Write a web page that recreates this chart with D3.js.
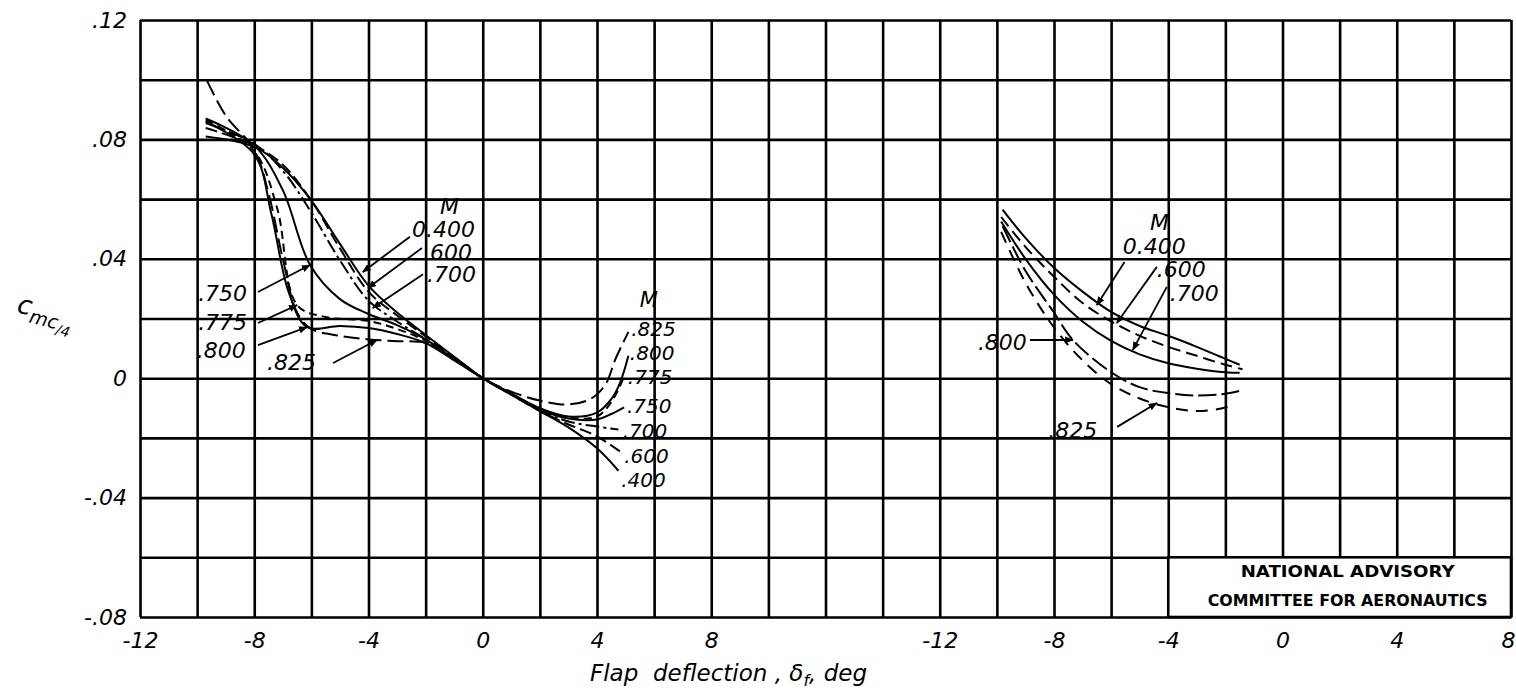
<!DOCTYPE html>
<html>
<head>
<meta charset="utf-8">
<script src="https://cdn.jsdelivr.net/npm/d3@7"></script>
<style>
  body { margin: 0; background: #fff; }
  text { font-family: "DejaVu Sans", sans-serif; font-style: italic; fill: #000; }
</style>
</head>
<body>
<div id="chart"></div>
<script>

// x tick labels and y tick labels
var xTicks = [-12, -8, -4, 0, 4, 8];
var yTicks = [-0.08, -0.04, 0, 0.04, 0.08, 0.12];
var yTickText = ["-.08", "-.04", "0", ".04", ".08", ".12"];

// left panel, Mach numbers and curves [flap deflection, cm c/4]
var leftMach = ["0.400", ".600", ".700", ".750", ".775", ".800", ".825"];
var left400 = [[-9.7, .081], [-8, .0775], [-7, .0705], [-6, .0595], [-5, .045], [-4, .031], [-3, .022], [-2, .0145], [-1, .0072], [0, 0],
  [1, -.0055], [2, -.011], [3, -.0165], [4, -.0235], [4.75, -.031]];
var left600 = [[-9.7, .0838], [-8, .078], [-7, .0715], [-6, .0595], [-5, .0435], [-4, .029], [-3, .021], [-2, .014], [-1, .007], [0, 0],
  [1, -.0055], [2, -.011], [3, -.0155], [4, -.0195], [4.8, -.0245]];
var left700 = [[-9.7, .0855], [-8, .0785], [-7, .0695], [-6, .0555], [-5, .0395], [-4, .026], [-3, .019], [-2, .013], [-1, .0065], [0, 0],
  [1, -.0055], [2, -.0108], [3, -.0145], [4, -.0162], [4.75, -.0172]];
var left750 = [[-9.7, .087], [-8, .078], [-7, .063], [-6.05, .038], [-5, .0265], [-4, .0215], [-3, .0178], [-2, .013], [-1, .0064], [0, 0],
  [1, -.0053], [2, -.0105], [3, -.0135], [4, -.0138], [4.5, -.012], [4.95, -.0098]];
var left775 = [[-9.7, .0865], [-8, .076], [-7.2, .057], [-6.5, .0245], [-5.5, .0205], [-4, .0192], [-3, .0165], [-2, .0125], [-1, .0063], [0, 0],
  [1, -.0052], [2, -.0103], [3, -.0132], [4, -.0128], [4.5, -.008], [4.95, .0005]];
var left800 = [[-9.7, .086], [-8, .075], [-7.4, .055], [-6.8, .029], [-6.15, .0171], [-5, .0175], [-4, .0168], [-3, .0148], [-2, .0118], [-1, .006], [0, 0],
  [1, -.0051], [2, -.01], [3, -.0128], [4, -.0115], [4.5, -.007], [4.8, -.0017], [5.1, .0075]];
var left825 = [[-9.65, .0996], [-9, .088], [-8, .0765], [-7.5, .062], [-7, .04], [-6.5, .022], [-6, .0165], [-5, .0142], [-4, .013], [-3, .0124], [-2, .0118], [-1, .0068], [0, 0],
  [1, -.0045], [2, -.0075], [3, -.0088], [3.8, -.0068], [4.3, -.002], [4.65, .0065], [5.1, .0155]];

// right panel, Mach numbers and curves
var rightMach = ["0.400", ".600", ".700", ".800", ".825"];
var right400 = [[-9.8, .0565], [-9, .047], [-8, .037], [-7, .029], [-6, .0222], [-5, .0175], [-4, .0142], [-3, .0105], [-2, .0065], [-1.5, .0045]];
var right600 = [[-9.85, .054], [-9, .044], [-8, .034], [-7, .0252], [-6, .019], [-5, .0142], [-4, .0105], [-3, .0075], [-2, .0045], [-1.4, .003]];
var right700 = [[-9.85, .0525], [-9, .040], [-8, .028], [-7, .019], [-6, .0125], [-5, .008], [-4, .005], [-3, .0032], [-2, .002], [-1.5, .0018]];
var right800 = [[-9.8, .051], [-9, .036], [-8, .022], [-7.34, .0128], [-6, .002], [-5, -.003], [-4, -.005], [-3, -.0058], [-2, -.0052], [-1.4, -.004]];
var right825 = [[-9.85, .049], [-9, .032], [-8, .017], [-7, .006], [-6, -.002], [-5, -.0068], [-4, -.0097], [-3, -.011], [-2, -.0098], [-1.7, -.0085]];

var width = 1516, height = 693;

var svg = d3.select("#chart")
  .append("svg")
  .attr("width", width)
  .attr("height", height);

// one scale across both panels (right panel shifted by 28 units), plus one per panel
var xAll = d3.scaleLinear().domain([-12, 36]).range([140, 1511]);
var xLeft = d3.scaleLinear().domain([-12, 8]).range([xAll(-12), xAll(8)]);
var xRight = d3.scaleLinear().domain([-12, 8]).range([xAll(16), xAll(36)]);
var y = d3.scaleLinear().domain([-0.08, 0.12]).range([617, 20]);

svg.append("defs").append("marker")
  .attr("id", "arrow")
  .attr("viewBox", "0 0 10 10")
  .attr("refX", 9).attr("refY", 5)
  .attr("markerWidth", 9).attr("markerHeight", 9)
  .attr("markerUnits", "userSpaceOnUse")
  .attr("orient", "auto")
  .append("path")
  .attr("d", "M0,1 L10,5 L0,9 Z")
  .style("fill", "#000");

// grid
var gridV = svg.append("g")
  .attr("transform", "translate(0," + y(-0.08) + ")")
  .call(d3.axisBottom(xAll).tickValues(d3.range(-12, 37, 2)).tickSize(-(y(-0.08) - y(0.12))).tickFormat(""));
var gridH = svg.append("g")
  .attr("transform", "translate(" + xAll(-12) + ",0)")
  .call(d3.axisLeft(y).tickValues(d3.range(-4, 7).map(function (d) { return d * 0.02; })).tickSize(-(xAll(36) - xAll(-12))).tickFormat(""));
[gridV, gridH].forEach(function (g) {
  g.select(".domain").remove();
  g.selectAll("line").style("stroke", "#000").style("stroke-width", 2.6);
});

// NACA box in bottom right cells
svg.append("rect")
  .attr("x", xRight(-4)).attr("y", y(-0.06))
  .attr("width", xRight(8) - xRight(-4)).attr("height", y(-0.08) - y(-0.06))
  .style("fill", "#fff").style("stroke", "#000").style("stroke-width", 2.6);
svg.append("text")
  .attr("x", (xRight(-4) + xRight(8)) / 2 + 8).attr("y", y(-0.065))
  .attr("text-anchor", "middle").attr("dominant-baseline", "central")
  .style("font-style", "normal").style("font-weight", "bold").style("font-size", "15px")
  .attr("textLength", 214).attr("lengthAdjust", "spacingAndGlyphs")
  .text("NATIONAL ADVISORY");
svg.append("text")
  .attr("x", (xRight(-4) + xRight(8)) / 2 + 8).attr("y", y(-0.0745))
  .attr("text-anchor", "middle").attr("dominant-baseline", "central")
  .style("font-style", "normal").style("font-weight", "bold").style("font-size", "15px")
  .attr("textLength", 280).attr("lengthAdjust", "spacingAndGlyphs")
  .text("COMMITTEE FOR AERONAUTICS");

// tick labels
function tickAxis(g, axis) {
  g.call(axis);
  g.select(".domain").remove();
  g.selectAll("line").remove();
  g.selectAll("text").style("font-size", "22px").style("font-family", "DejaVu Sans, sans-serif");
  return g;
}
tickAxis(svg.append("g").attr("transform", "translate(0," + y(-0.08) + ")"),
  d3.axisBottom(xLeft).tickValues(xTicks).tickSize(0).tickPadding(15).tickFormat(function (d) { return d; }));
tickAxis(svg.append("g").attr("transform", "translate(0," + y(-0.08) + ")"),
  d3.axisBottom(xRight).tickValues(xTicks).tickSize(0).tickPadding(15).tickFormat(function (d) { return d; }))
  .selectAll("text").filter(function (d) { return d === 8; }).attr("text-anchor", "end").attr("dx", 4);
tickAxis(svg.append("g").attr("transform", "translate(" + xAll(-12) + ",0)"),
  d3.axisLeft(y).tickValues(yTicks).tickSize(0).tickPadding(13).tickFormat(function (d, i) { return yTickText[i]; }));

// axis titles
svg.append("text")
  .attr("x", 590).attr("y", 681)
  .style("font-size", "23px")
  .attr("xml:space", "preserve")
  .html("Flap  deflection , &#948;<tspan dy='5' font-size='16'>f</tspan><tspan dy='-5'>, deg</tspan>");

var yTitle = svg.append("text")
  .attr("transform", "translate(16,312) rotate(14)")
  .style("font-size", "26px");
yTitle.append("tspan").text("c");
yTitle.append("tspan").attr("dy", 7).style("font-size", "19px").text("mc");
yTitle.append("tspan").attr("dy", 5).style("font-size", "14px").text("/4");

// curves
var lineLeft = d3.line()
  .x(function (d) { return xLeft(d[0]); })
  .y(function (d) { return y(d[1]); })
  .curve(d3.curveCatmullRom.alpha(0.5));
var lineRight = d3.line()
  .x(function (d) { return xRight(d[0]); })
  .y(function (d) { return y(d[1]); })
  .curve(d3.curveCatmullRom.alpha(0.5));

var leftSeries = [left400, left600, left700, left750, left775, left800, left825];
var leftDash = [null, "12,5", "14,4,3,4", null, "8,5", null, "16,6"];
var rightSeries = [right400, right600, right700, right800, right825];
var rightDash = [null, "12,6", null, "18,5", "12,8"];

function drawCurve(data, line, dash) {
  svg.append("path")
    .datum(data)
    .attr("d", line)
    .style("fill", "none")
    .style("stroke", "#000")
    .style("stroke-width", 2)
    .style("stroke-dasharray", dash);
}
leftSeries.forEach(function (s, i) { drawCurve(s, lineLeft, leftDash[i]); });
rightSeries.forEach(function (s, i) { drawCurve(s, lineRight, rightDash[i]); });

// labels and leaders, placed in data units
function label(xs, px, py, txt, anchor, size) {
  svg.append("text")
    .attr("x", xs(px)).attr("y", y(py))
    .attr("text-anchor", anchor || "start")
    .attr("dominant-baseline", "central")
    .style("font-size", (size || 22) + "px")
    .text(txt);
}
function leader(xs, x1, y1, x2, y2) {
  svg.append("line")
    .attr("x1", xs(x1)).attr("y1", y(y1))
    .attr("x2", xs(x2)).attr("y2", y(y2))
    .style("stroke", "#000").style("stroke-width", 1.8)
    .attr("marker-end", "url(#arrow)");
}

// left panel, low Mach group
label(xLeft, -1.5, 0.0575, "M");
label(xLeft, -2.48, 0.0497, leftMach[0]);
label(xLeft, -2.09, 0.042, leftMach[1]);
label(xLeft, -1.95, 0.0346, leftMach[2]);
leader(xLeft, -2.55, 0.0474, -4.2, 0.0356);
leader(xLeft, -2.13, 0.0436, -4.02, 0.0302);
leader(xLeft, -2.09, 0.0348, -3.85, 0.0235);

// left panel, high Mach group
label(xLeft, -8.25, 0.0285, leftMach[3], "end");
label(xLeft, -8.25, 0.0188, leftMach[4], "end");
label(xLeft, -8.3, 0.0094, leftMach[5], "end");
label(xLeft, -7.55, 0.0051, leftMach[6]);
leader(xLeft, -7.87, 0.0289, -6.05, 0.0379);
leader(xLeft, -7.87, 0.0185, -6.5, 0.0245);
leader(xLeft, -7.87, 0.0111, -6.15, 0.0171);
leader(xLeft, -5.24, 0.0051, -3.7, 0.0128);

// left panel, positive deflection end labels
label(xLeft, 5.5, 0.0262, "M", "start", 21);
label(xLeft, 5.2, 0.0165, leftMach[6], "start", 20);
label(xLeft, 5.15, 0.0086, leftMach[5], "start", 20);
label(xLeft, 5.08, 0.0003, leftMach[4], "start", 20);
label(xLeft, 5.05, -0.0093, leftMach[3], "start", 20);
label(xLeft, 4.9, -0.0178, leftMach[2], "start", 20);
label(xLeft, 4.95, -0.0262, leftMach[1], "start", 20);
label(xLeft, 4.85, -0.0342, leftMach[0].slice(1), "start", 20);

// right panel
label(xRight, -4.64, 0.0523, "M");
label(xRight, -5.59, 0.044, rightMach[0]);
label(xRight, -4.4, 0.0363, rightMach[1]);
label(xRight, -3.95, 0.0285, rightMach[2]);
label(xRight, -8.95, 0.0118, rightMach[3], "end");
label(xRight, -8.2, -0.0174, rightMach[4]);
leader(xRight, -5.53, 0.0389, -6.5, 0.0245);
leader(xRight, -4.4, 0.0373, -5.8, 0.0185);
leader(xRight, -4.05, 0.0306, -5.24, 0.0095);
leader(xRight, -8.84, 0.0128, -7.34, 0.0128);
leader(xRight, -5.79, -0.0163, -4.4, -0.0083);

</script>
</body>
</html>
